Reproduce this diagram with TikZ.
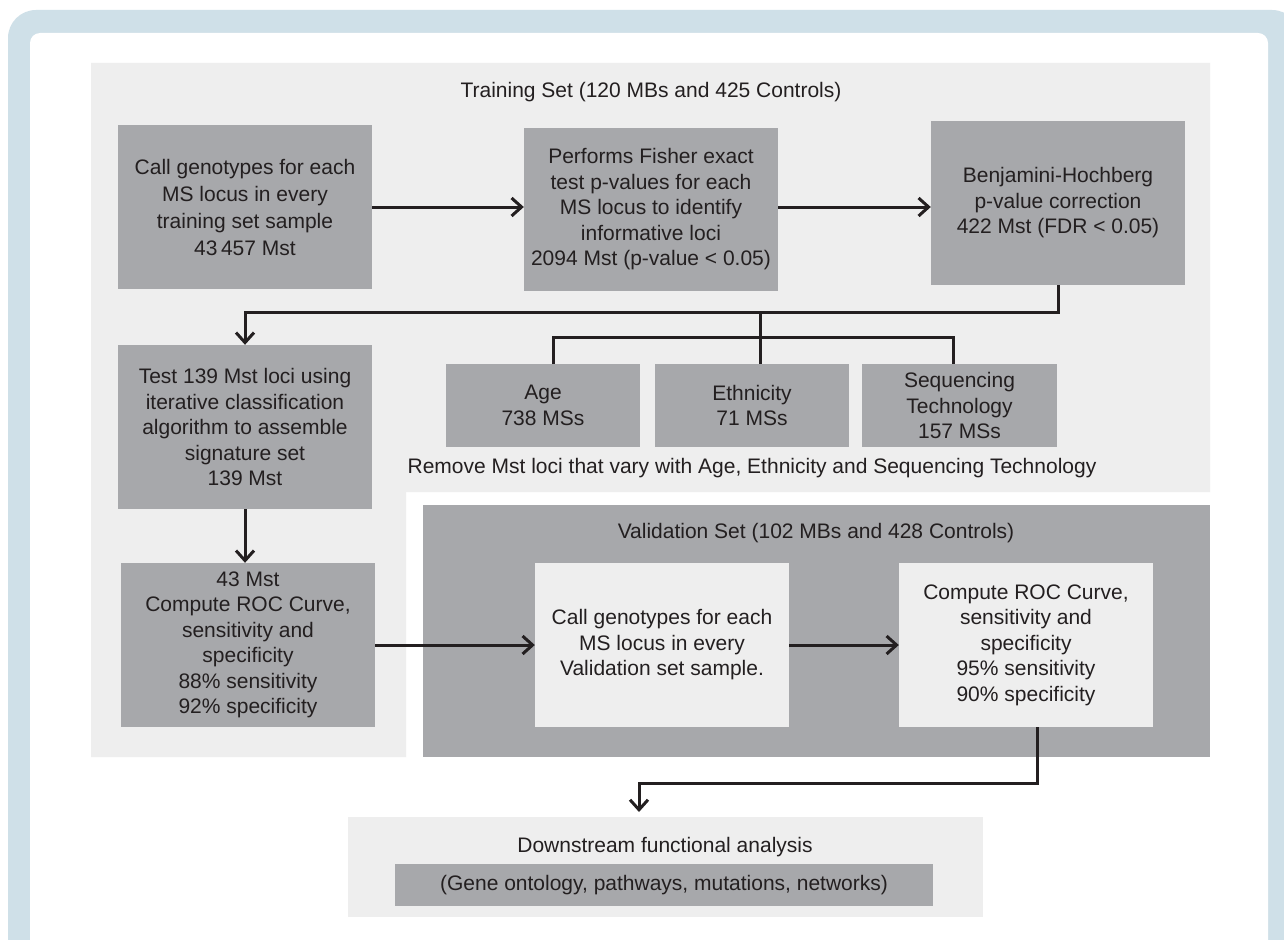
\documentclass[tikz,border=0pt]{standalone}
\usepackage{fontspec}
\setmainfont{Liberation Sans}
\usetikzlibrary{arrows.meta}
\definecolor{frameblue}{HTML}{CFE0E8}
\definecolor{lgray}{HTML}{EEEEEE}
\definecolor{dgray}{HTML}{A7A8AB}
\definecolor{txt}{HTML}{231F20}
\tikzset{
  lbl/.style={font=\fontsize{21}{25.5}\selectfont, text=txt, inner sep=0pt},
  dbox/.style={lbl, fill=dgray, align=center, minimum width=254pt, minimum height=164pt},
  lbox/.style={lbl, fill=lgray, align=center, minimum width=254pt, minimum height=164pt},
  fbox/.style={lbl, fill=dgray, align=center, minimum width=194pt, minimum height=83pt},
  conn/.style={draw=txt, line width=3pt},
  arr/.style={conn, -{Straight Barb[length=10pt,width=18pt]}}
}
\begin{document}
\begin{tikzpicture}[x=1pt,y=-1pt]
\useasboundingbox (0,0) rectangle (1284,939);
\clip (0,0) rectangle (1284,939);
\fill[white] (0,0) rectangle (1284,939);
% frame
\fill[frameblue, rounded corners=28pt] (8,10) rectangle (1300,1000);
\fill[white, rounded corners=10pt] (30,33) rectangle (1268,1000);
% training area
\fill[lgray] (91,63) -- (1210,63) -- (1210,492) -- (406,492) -- (406,757) -- (91,757) -- cycle;
% validation area
\fill[dgray] (423,505) rectangle (1210,757);

\node[lbl] (ttitle) at (651,92) {Training Set (120 MBs and 425 Controls)};
\node[lbl] (vtitle) at (816,533) {Validation Set (102 MBs and 428 Controls)};

\node[dbox, font=\fontsize{21}{27}\selectfont] (b1) at (245,207) {Call genotypes for each\\MS locus in every\\training set sample\\43\,457 Mst};
\node[dbox, minimum height=163pt] (b2) at (651,209.5) {Performs Fisher exact\\test p-values for each\\MS locus to identify\\informative loci\\2094 Mst (p-value < 0.05)};
\node[dbox] (b3) at (1058,203) {Benjamini-Hochberg\\p-value correction\\422 Mst (FDR < 0.05)};
\node[dbox] (b4) at (245,427) {Test 139 Mst loci using\\iterative classification\\algorithm to assemble\\signature set\\139 Mst};
\node[dbox] (b5) at (248,645) {43 Mst\\Compute ROC Curve,\\sensitivity and\\specificity\\88\% sensitivity\\92\% specificity};
\node[lbox] (b6) at (662,645) {Call genotypes for each\\MS locus in every\\Validation set sample.};
\node[lbox] (b7) at (1026,645) {Compute ROC Curve,\\sensitivity and\\specificity\\95\% sensitivity\\90\% specificity};

\node[fbox] (age) at (543,405.5) {Age\\738 MSs};
\node[fbox] (eth) at (752,405.5) {Ethnicity\\71 MSs};
\node[fbox, minimum width=195pt] (seq) at (959.5,405.5) {Sequencing\\Technology\\157 MSs};
\node[lbl] (remove) at (752,468) {Remove Mst loci that vary with Age, Ethnicity and Sequencing Technology};

% downstream
\node[lbl, fill=lgray, minimum width=635pt, minimum height=100pt] (ds) at (665.5,867) {};
\node[lbl] (dstext) at (665,847) {Downstream functional analysis};
\node[lbl, fill=dgray, minimum width=538pt, minimum height=42pt] (dsi) at (664,885) {(Gene ontology, pathways, mutations, networks)};

% coordinates
\coordinate (hy) at (0,312);
\coordinate (mid) at (760,312);
\coordinate (brL) at (553,337);
\coordinate (brR) at (953,337);
\coordinate (ageT) at (553,364);
\coordinate (ethT) at (760,364);
\coordinate (seqT) at (953,364);
\coordinate (b7out) at (1037,727);
\coordinate (lowY) at (0,783);
\coordinate (dsIn) at (639,812);

% connectors
\draw[arr] (b1.east) -- (b1.east -| b2.west);
\draw[arr] (b1.east -| b2.east) -- (b1.east -| b3.west);
\draw[arr] (b3.south) -- (b3.south |- hy) -| (b4.north);
\draw[conn] (mid) -- (ethT);
\draw[conn] (ageT) -- (brL) -- (brR) -- (seqT);
\draw[arr] (b4.south) -- (b4.south |- b5.north);
\draw[arr] (b5.east |- b6.west) -- (b6.west);
\draw[arr] (b6.east) -- (b7.west);
\draw[arr] (b7out) -- (b7out |- lowY) -| (dsIn);
\end{tikzpicture}
\end{document}
